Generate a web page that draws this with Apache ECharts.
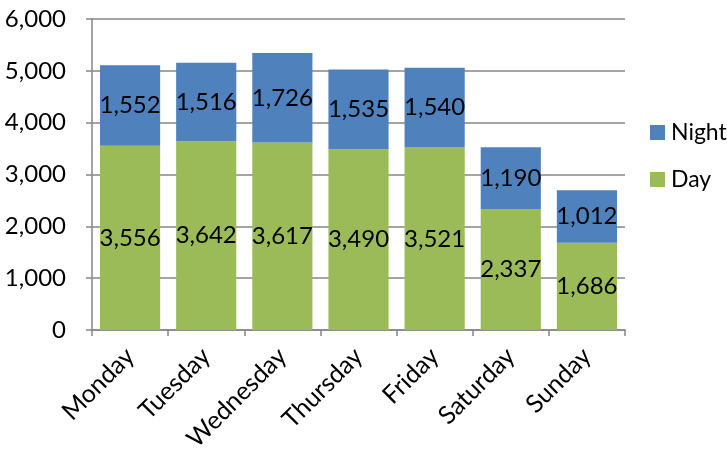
<!DOCTYPE html>
<html><head><meta charset="utf-8">
<script src="https://cdn.jsdelivr.net/npm/echarts@6/dist/echarts.min.js"></script>
<style>html,body{margin:0;padding:0;background:#fff}#c{width:727px;height:454px}</style>
</head><body><div id="c"></div>
<script>
const categories = ['Monday','Tuesday','Wednesday','Thursday','Friday','Saturday','Sunday'];
const dayValues = [3556, 3642, 3617, 3490, 3521, 2337, 1686];
const nightValues = [1552, 1516, 1726, 1535, 1540, 1190, 1012];
const yTicks = [0, 1000, 2000, 3000, 4000, 5000, 6000];

const font = 'Lato, "Open Sans", sans-serif';
const chart = echarts.init(document.getElementById('c'), null, {renderer: 'canvas'});
const lbl = {show: true, position: 'inside', color: '#000', fontSize: 24, fontFamily: font,
  formatter: p => p.value.toLocaleString('en-US')};
chart.setOption({
  animation: false,
  grid: {left: 92, right: 102, top: 19, bottom: 123, containLabel: false},
  legend: {
    orient: 'vertical', left: 645, top: 116, itemGap: 24, itemWidth: 15, itemHeight: 15,
    icon: 'rect', data: ['Night', 'Day'],
    textStyle: {fontSize: 23, fontFamily: font, color: '#000', padding: [0,0,0,1]}
  },
  xAxis: {
    type: 'category', data: categories, boundaryGap: true,
    axisLine: {lineStyle: {color: '#868686', width: 1.5}},
    axisTick: {show: true, length: 6, lineStyle: {color: '#868686', width: 1.5}},
    axisLabel: {rotate: 45, fontSize: 25, fontFamily: font, color: '#000', margin: 22, interval: 0}
  },
  yAxis: {
    type: 'value', min: yTicks[0], max: yTicks[yTicks.length-1], interval: 1000,
    axisLine: {show: true, lineStyle: {color: '#868686', width: 1.5}},
    axisTick: {show: true, length: 6, lineStyle: {color: '#868686', width: 1.5}},
    splitLine: {lineStyle: {color: '#868686', width: 1.5}},
    axisLabel: {fontSize: 24, fontFamily: font, color: '#000', margin: 26,
      formatter: v => v.toLocaleString('en-US')}
  },
  series: [
    {name: 'Day', type: 'bar', stack: 's', data: dayValues, barCategoryGap: '21%',
      itemStyle: {color: '#9bbb59'}, label: lbl},
    {name: 'Night', type: 'bar', stack: 's', data: nightValues, barCategoryGap: '21%',
      itemStyle: {color: '#4f81bd'}, label: lbl}
  ]
});
</script></body></html>
